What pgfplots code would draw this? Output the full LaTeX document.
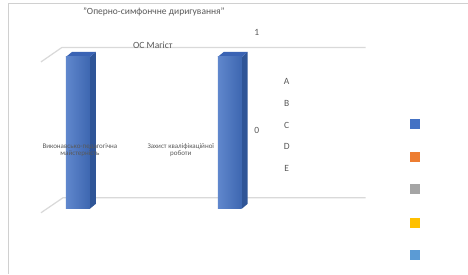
\documentclass[border=0pt]{standalone}
\usepackage{pgfplots}
\pgfplotsset{compat=1.18}
\usepackage{fontspec}
\setmainfont{Carlito}
\definecolor{txt}{HTML}{595959}
\definecolor{gridc}{HTML}{D9D9D9}
\definecolor{framec}{HTML}{D0D0D0}
\definecolor{frontc}{HTML}{4472C4}
\definecolor{sidec}{HTML}{2F5597}
\definecolor{topc}{HTML}{3A63B4}
\definecolor{cA}{HTML}{4472C4}
\definecolor{cB}{HTML}{ED7D31}
\definecolor{cC}{HTML}{A5A5A5}
\definecolor{cD}{HTML}{FFC000}
\definecolor{cE}{HTML}{5B9BD5}
\begin{document}
\begin{tikzpicture}
\begin{axis}[scale only axis, width=468pt, height=274pt,
  xmin=0, xmax=468, ymin=0, ymax=274, y dir=reverse,
  hide axis, clip=false]
% background
\addplot[fill=white, draw=none] coordinates {(0,0) (468,0) (468,274) (0,274)} -- cycle;
% frame
\addplot[draw=framec, line width=1pt] coordinates {(9,274) (9,4) (468,4)};
% gridlines (value 1 back wall and floor)
\addplot[draw=gridc, line width=1.2pt] coordinates {(41,62) (62,47.5) (366,47.5)};
\addplot[draw=gridc, line width=1.2pt] coordinates {(41,213) (63,198) (366,198)};
% bar 1 (value 1)
\addplot[fill=sidec, draw=none] coordinates {(90,57) (96,52) (96,204) (90,209)} -- cycle;
\addplot[fill=topc, draw=none] coordinates {(66,57) (90,57) (96,52) (72,52)} -- cycle;
\addplot[left color=frontc!85!white, right color=frontc!90!black, draw=none] coordinates {(66,57) (90,57) (90,209) (66,209)} -- cycle;
% bar 2 (value 1)
\addplot[fill=sidec, draw=none] coordinates {(242,57) (248,52) (248,204) (242,209)} -- cycle;
\addplot[fill=topc, draw=none] coordinates {(218,57) (242,57) (248,52) (224,52)} -- cycle;
\addplot[left color=frontc!85!white, right color=frontc!90!black, draw=none] coordinates {(218,57) (242,57) (242,209) (218,209)} -- cycle;
% legend squares
\addplot[only marks, mark=square*, mark size=4.5pt, mark options={draw=cA, fill=cA}] coordinates {(415.5,124)};
\addplot[only marks, mark=square*, mark size=4.5pt, mark options={draw=cB, fill=cB}] coordinates {(415.5,157)};
\addplot[only marks, mark=square*, mark size=4.5pt, mark options={draw=cC, fill=cC}] coordinates {(415.5,189)};
\addplot[only marks, mark=square*, mark size=4.5pt, mark options={draw=cD, fill=cD}] coordinates {(415.5,222.5)};
\addplot[only marks, mark=square*, mark size=4.5pt, mark options={draw=cE, fill=cE}] coordinates {(415.5,255)};
% texts
\node[txt, font=\fontsize{9.5}{11}\selectfont] at (axis cs:154,12) {"Оперно-симфончне диригування"};
\node[txt, font=\fontsize{9.5}{11}\selectfont] at (axis cs:153,45.5) {ОС Магіст};
\node[txt, font=\fontsize{9.5}{11}\selectfont] at (axis cs:257,32) {1};
\node[txt, font=\fontsize{9.5}{11}\selectfont] at (axis cs:257,131) {0};
\node[txt, font=\fontsize{9.5}{11}\selectfont] at (axis cs:287,82) {A};
\node[txt, font=\fontsize{9.5}{11}\selectfont] at (axis cs:287,103.5) {B};
\node[txt, font=\fontsize{9.5}{11}\selectfont] at (axis cs:287,125.5) {C};
\node[txt, font=\fontsize{9.5}{11}\selectfont] at (axis cs:287,147) {D};
\node[txt, font=\fontsize{9.5}{11}\selectfont] at (axis cs:287,169) {E};
\node[txt, font=\fontsize{7}{7.5}\selectfont, align=center] at (axis cs:80,150.5) {Виконавсько-педагогічна\\майстерність};
\node[txt, font=\fontsize{7}{7.5}\selectfont, align=center] at (axis cs:181,150.5) {Захист кваліфікаційної\\роботи};
\end{axis}
\end{tikzpicture}
\end{document}
